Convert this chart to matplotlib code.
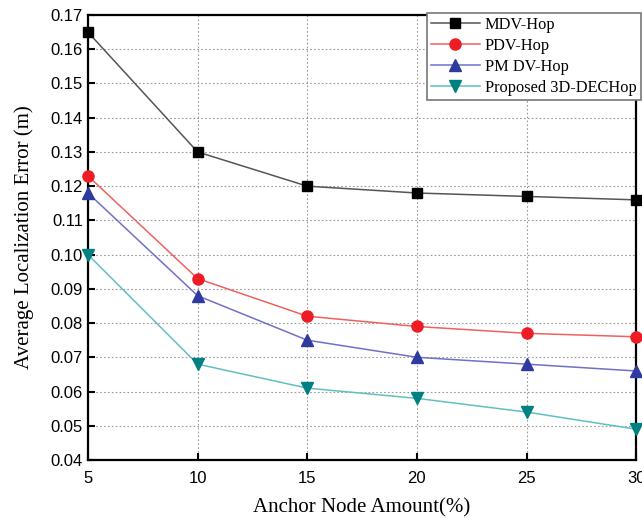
import numpy as np
import matplotlib
matplotlib.use("Agg")
import matplotlib.pyplot as plt

anchor = [5, 10, 15, 20, 25, 30]
mdv = [0.165, 0.130, 0.120, 0.118, 0.117, 0.116]
pdv = [0.123, 0.093, 0.082, 0.079, 0.077, 0.076]
pmdv = [0.118, 0.088, 0.075, 0.070, 0.068, 0.066]
proposed = [0.100, 0.068, 0.061, 0.058, 0.054, 0.049]
names = ["MDV-Hop", "PDV-Hop", "PM DV-Hop", "Proposed 3D-DECHop"]

fig = plt.figure(figsize=(6.42, 5.18), dpi=100)
ax = fig.add_axes([0.137, 0.112, 0.854, 0.859])

# line colour, marker colour, marker
styles = [("#555555", "#000000", "s", 7),
          ("#f06060", "#ee1c24", "o", 8),
          ("#7070c8", "#2e3a9e", "^", 9),
          ("#60c0c0", "#008080", "v", 9)]
for ys, name, (lc, mc, mk, ms) in zip([mdv, pdv, pmdv, proposed], names, styles):
	ax.plot(anchor, ys, color=lc, linewidth=1.1, marker=mk, markersize=ms,
			markerfacecolor=mc, markeredgecolor=mc, label=name, clip_on=False, zorder=3)

ax.set_xlim(5, 30)
ax.set_ylim(0.04, 0.17)
ax.set_xticks(anchor)
ax.set_yticks(np.arange(0.04, 0.1701, 0.01))
ax.set_yticklabels(["%.2f" % v for v in np.arange(0.04, 0.1701, 0.01)])
ax.tick_params(direction="in", length=5, width=1.5, labelsize=12)
for lab in ax.get_xticklabels() + ax.get_yticklabels():
	lab.set_family("Liberation Sans")
ax.tick_params(axis="x", pad=8)
ax.grid(True, linestyle=(0, (1.5, 2)), color="#999999", linewidth=0.8)
for sp in ax.spines.values():
	sp.set_linewidth(1.6)

ax.set_xlabel("Anchor Node Amount(%)", family="Liberation Serif", fontsize=15, labelpad=9)
ax.set_ylabel("Average Localization Error (m)", family="Liberation Serif", fontsize=15, labelpad=12)

leg = ax.legend(loc="upper right", bbox_to_anchor=(1.008, 1.005), prop={"family": "Liberation Serif", "size": 11.8},
				fancybox=False, edgecolor="#777777", framealpha=1, borderpad=0.25, labelspacing=0.3,
				handlelength=3.0, handletextpad=0.3, borderaxespad=0)
leg.get_frame().set_linewidth(1.2)

fig.savefig("out.png", dpi=100)
